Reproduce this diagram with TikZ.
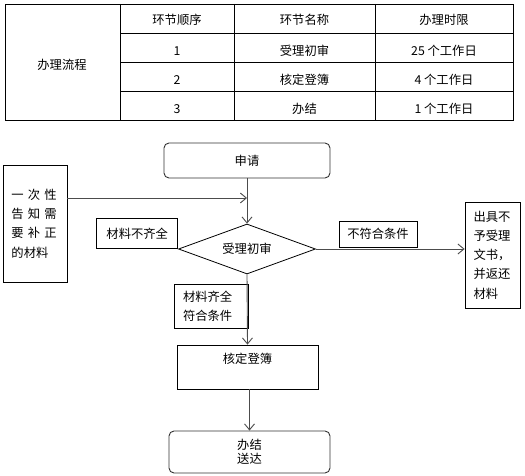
\documentclass[tikz,border=0pt]{standalone}
\usepackage{fontspec}
\newfontfamily\cjk{Noto Sans CJK SC}
\usetikzlibrary{shapes.geometric,arrows.meta}
\begin{document}
\begin{tikzpicture}[x=1pt,y=-1pt,
  every node/.style={font=\cjk\fontsize{12.3}{14}\selectfont, inner sep=0pt},
  tline/.style={line width=0.8pt, draw=black},
  box/.style={draw=black, line width=0.8pt},
  rbox/.style={draw=black!80, line width=0.9pt, rounded corners=5pt},
  arr/.style={draw=black!70, line width=0.9pt, -{Straight Barb[length=6pt,width=10pt]}},
  tall/.style={font=\cjk\fontsize{12.3}{19.3}\selectfont}
]
\useasboundingbox (0,0) rectangle (525,476);

% ---- table ----
\draw[tline] (5,4) rectangle (513,120);
\draw[tline] (120,4) -- (120,120);
\draw[tline] (234,4) -- (234,120);
\draw[tline] (375,4) -- (375,120);
\draw[tline] (120,33) -- (513,33);
\draw[tline] (120,62) -- (513,62);
\draw[tline] (120,91) -- (513,91);

\node (t0) at (62,65) {办理流程};
\node (h1) at (177,20) {环节顺序};
\node (h2) at (304.5,20) {环节名称};
\node (h3) at (444,20) {办理时限};
\node (a1) at (177,51) {1};
\node (a2) at (304.5,51) {受理初审};
\node (a3) at (444,51) {25 个工作日};
\node (b1) at (177,80) {2};
\node (b2) at (304.5,80) {核定登簿};
\node (b3) at (444,80) {4 个工作日};
\node (c1) at (177,109) {3};
\node (c2) at (304.5,109) {办结};
\node (c3) at (444,109) {1 个工作日};

% ---- flowchart ----
\node[rbox, minimum width=166, minimum height=35] (sq) at (247,160.5) {申请};
\node[box, tall, minimum width=64, minimum height=117, text width=47, align=left] (lb) at (35,223.5)
  {一 次 性\\告 知 需\\要 补 正\\的材料};
\coordinate (j) at (247,198);
\draw[arr] (lb.east |- j) -- (j);

\node[box, diamond, minimum width=137, minimum height=50, aspect=2.74] (d) at (247,249) {受理初审};
\draw[arr] (sq.south) -- (d.north);

\node[box, minimum width=81, minimum height=30, anchor=south east] (nq) at (d.west) {材料不齐全};
\node[box, minimum width=78, minimum height=26] (nf) at (378,234) {不符合条件};
\node[box, tall, minimum width=55, minimum height=106, text width=38, align=left] (rb) at (492.5,255)
  {出具不\\予受理\\文书，\\并返还\\材料};
\draw[arr] (d.east) -- (d.east -| rb.west);

\node[box, tall, minimum width=74, minimum height=44, text width=56, align=left] (qq) at (211,306)
  {材料齐全\\符合条件};

\node[box, minimum width=141, minimum height=44,
  label={[anchor=north, yshift=-8pt]north:核定登簿}] (hd) at (247.5,367) {};
\draw[arr] (d.south) -- (hd.north);

\node[rbox, minimum width=161, minimum height=42, align=center] (bj) at (249.5,452) {办结\\送达};
\draw[arr] (bj.north |- hd.south) -- (bj.north);
\end{tikzpicture}
\end{document}
